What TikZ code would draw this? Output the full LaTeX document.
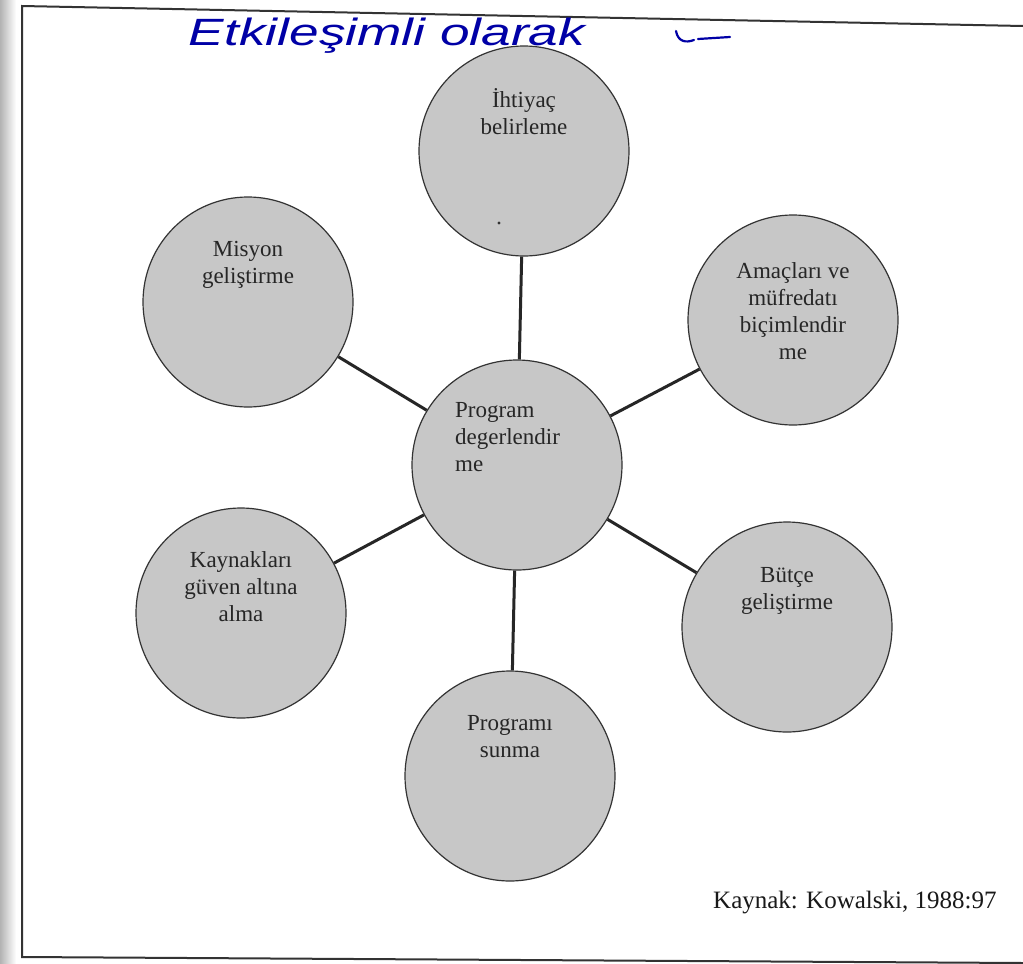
\documentclass[tikz,border=0pt]{standalone}
\usepackage{fontspec}
\setmainfont{Liberation Serif}
\newfontfamily\handfont{Liberation Sans}
\begin{document}
\begin{tikzpicture}[x=1pt,y=-1pt,
  bubble/.style={circle,draw=black!80,line width=1.2pt,fill=black!22,minimum size=210pt,inner sep=0pt},
  btext/.style={align=center,inner sep=0pt,anchor=base,text=black!85,font=\fontsize{23}{27}\selectfont},
  conn/.style={line width=3pt,draw=black!85},
  frameline/.style={line width=2pt,draw=black!80},
  hand/.style={inner sep=0pt,text=blue!65!black,font=\handfont\itshape\fontsize{38}{38}\selectfont},
  inkline/.style={line width=2.2pt,draw=blue!65!black,line cap=round}]
\useasboundingbox (0,0) rectangle (1023,964);
\fill[white] (0,0) rectangle (1023,964);
\shade[left color=black!30,right color=white] (0,0) rectangle (16,964);
% frame
\coordinate (tl) at (22,6);
\coordinate (tr) at (1023,26);
\coordinate (bl) at (22,957);
\coordinate (br) at (1023,963);
\draw[frameline] (tr) -- (tl) -- (bl) -- (br);
% handwriting
\node[hand] (hw) at (387,36) {\scalebox{1.4}[1]{Etkileşimli olarak}};
\draw[inkline] (676,31) .. controls (678,42) and (686,43) .. (694,40);
\draw[inkline] (698,39) -- (730,37);
% circles
\node[bubble] (need) at (524,151) {};
\node[bubble] (mission) at (248,302) {};
\node[bubble] (goals) at (793,320) {};
\node[bubble] (eval) at (517,465) {};
\node[bubble] (res) at (241,613) {};
\node[bubble] (budget) at (787,627) {};
\node[bubble] (present) at (510,776) {};
% connectors
\draw[conn] (eval) -- (need);
\draw[conn] (eval) -- (mission);
\draw[conn] (eval) -- (goals);
\draw[conn] (eval) -- (res);
\draw[conn] (eval) -- (budget);
\draw[conn] (eval) -- (present);
% texts (anchor base = baseline of the last line)
\node[btext] (needT) at (524,134) {İhtiyaç\\belirleme};
\fill[black!80] (499,223) circle (1.6pt);
\node[btext] (missionT) at (248,283) {Misyon\\geliştirme};
\node[btext] (goalsT) at (793,359) {Amaçları ve\\müfredatı\\biçimlendir\\me};
\node[btext,anchor=base west,align=left] (evalT) at (455,471) {Program\\degerlendir\\me};
\node[btext] (resT) at (241,621) {Kaynakları\\güven altına\\alma};
\node[btext] (budgetT) at (787,609) {Bütçe\\geliştirme};
\node[btext] (presentT) at (510,757) {Programı\\sunma};
% source
\node[anchor=base west,inner sep=0pt,text=black!90,font=\fontsize{25}{30}\selectfont] (src) at (713,908) {Kaynak: Kowalski, 1988:97};
\end{tikzpicture}
\end{document}
